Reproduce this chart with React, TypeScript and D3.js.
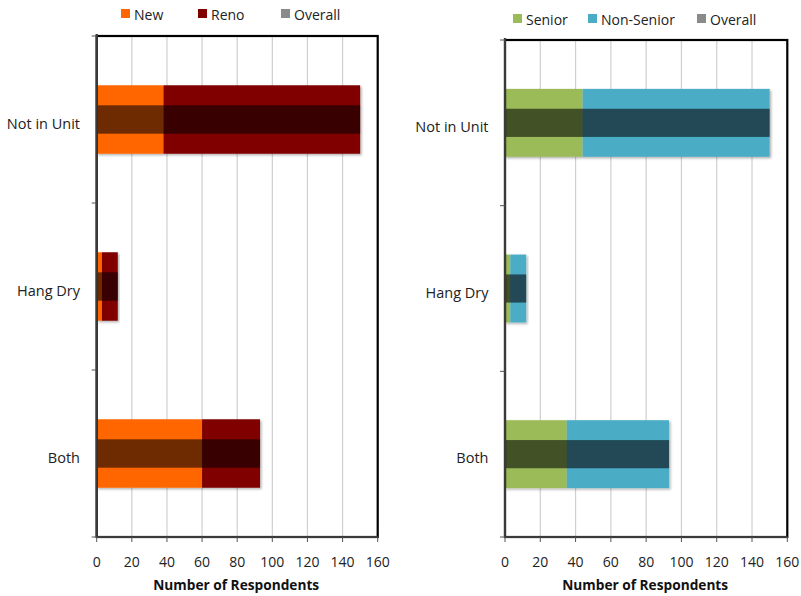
import * as d3 from "d3";

const categories = ["Not in Unit", "Hang Dry", "Both"];
const xTicks = [0, 20, 40, 60, 80, 100, 120, 140, 160];

// left panel: new vs reno construction
const newValues = [38, 3, 60];
const renoValues = [112, 9, 33];

// right panel: senior vs non-senior
const seniorValues = [44, 3, 35];
const nonSeniorValues = [106, 9, 58];

const FONT = "'Open Sans', 'Liberation Sans', sans-serif";

interface PanelProps {
  left: number;
  right: number;
  top: number;
  bottom: number;
  labelEnd: number;
  first: number[];
  second: number[];
  names: [string, string];
  colors: [string, string];
  legendX: [number, number, number];
  legendY: number;
}

function Panel({ left, right, top, bottom, labelEnd, first, second, names, colors, legendX, legendY }: PanelProps) {
  const x = d3.scaleLinear().domain([0, 160]).range([left, right]);
  const y = d3.scaleBand<string>().domain(categories).range([top, bottom]).padding(0);
  const bw = y.bandwidth();
  const barH = bw * 0.41;
  const overH = bw * 0.17;

  const rows = categories.map((c, i) => ({
    cat: c,
    a: first[i],
    b: second[i],
    cy: (y(c) ?? 0) + bw / 2,
  }));

  const legendItems = [
    { label: names[0], color: colors[0] },
    { label: names[1], color: colors[1] },
    { label: "Overall", color: "#8a8a8a" },
  ];

  return (
    <g>
      {/* legend */}
      {legendItems.map((d, i) => (
        <g key={d.label} transform={`translate(${legendX[i]}, ${legendY})`}>
          <rect x={0} y={-5} width={9} height={9} fill={d.color} />
          <text x={13} y={1} dy="0.35em" fontSize={14} fontFamily={FONT} fill="#222">
            {d.label}
          </text>
        </g>
      ))}

      {/* gridlines */}
      {xTicks.map((t) => (
        <line key={t} x1={x(t)} x2={x(t)} y1={top} y2={bottom} stroke="#cfcfcf" strokeWidth={1.2} />
      ))}

      {/* bars */}
      {rows.map((r) => (
        <g key={r.cat} filter="url(#shadow)">
          <rect x={x(0)} y={r.cy - barH / 2} width={x(r.a) - x(0)} height={barH} fill={colors[0]} />
          <rect x={x(r.a)} y={r.cy - barH / 2} width={x(r.a + r.b) - x(r.a)} height={barH} fill={colors[1]} />
          <rect
            x={x(0)}
            y={r.cy - overH / 2}
            width={x(r.a + r.b) - x(0)}
            height={overH}
            fill="#000"
            fillOpacity={0.57}
          />
        </g>
      ))}

      {/* frame */}
      <rect x={left} y={top} width={right - left} height={bottom - top} fill="none" stroke="#000" strokeWidth={2.2} />
      <line x1={left} x2={left} y1={top - 2} y2={bottom} stroke="#3a3a3a" strokeWidth={2.2} />
      <line x1={left} x2={right} y1={bottom} y2={bottom} stroke="#3a3a3a" strokeWidth={2.2} />

      {/* y ticks at band edges */}
      {[...categories.map((c) => y(c) ?? 0), bottom].map((v, i) => (
        <line key={i} x1={left - 5} x2={left} y1={v} y2={v} stroke="#555" strokeWidth={1} />
      ))}
      {rows.map((r) => (
        <text
          key={r.cat}
          x={labelEnd}
          y={r.cy + 4}
          dy="0.35em"
          textAnchor="end"
          fontSize={14.5}
          fontFamily={FONT}
          fill="#222"
        >
          {r.cat}
        </text>
      ))}

      {/* x axis */}
      {xTicks.map((t) => (
        <g key={t}>
          <line x1={x(t)} x2={x(t)} y1={bottom} y2={bottom + 5} stroke="#555" strokeWidth={1} />
          <text x={x(t)} y={bottom + 25} textAnchor="middle" dy="0.35em" fontSize={14} fontFamily={FONT} fill="#222">
            {t}
          </text>
        </g>
      ))}
      <text
        x={(left + right) / 2 - 1}
        y={bottom + 48}
        dy="0.35em"
        textAnchor="middle"
        fontSize={13.7}
        fontWeight="bold"
        fontFamily={FONT}
        fill="#111"
      >
        Number of Respondents
      </text>
    </g>
  );
}

export default function App() {
  return (
    <svg
      width={801}
      height={596}
      style={{ position: "absolute", left: 0, top: 0, background: "#fff" }}
    >
      <defs>
        <filter id="shadow" x="-5%" y="-5%" width="115%" height="130%">
          <feDropShadow dx={1.5} dy={1.5} stdDeviation={1.2} floodColor="#000" floodOpacity={0.3} />
        </filter>
      </defs>
      <Panel
        left={96.7}
        right={377.7}
        top={36}
        bottom={537}
        labelEnd={80}
        first={newValues}
        second={renoValues}
        names={["New", "Reno"]}
        colors={["#ff6600", "#800000"]}
        legendX={[121, 198, 281]}
        legendY={14}
      />
      <Panel
        left={505}
        right={787.3}
        top={40}
        bottom={537}
        labelEnd={488.5}
        first={seniorValues}
        second={nonSeniorValues}
        names={["Senior", "Non-Senior"]}
        colors={["#9bbb59", "#4bacc6"]}
        legendX={[513, 588, 697]}
        legendY={19}
      />
    </svg>
  );
}
